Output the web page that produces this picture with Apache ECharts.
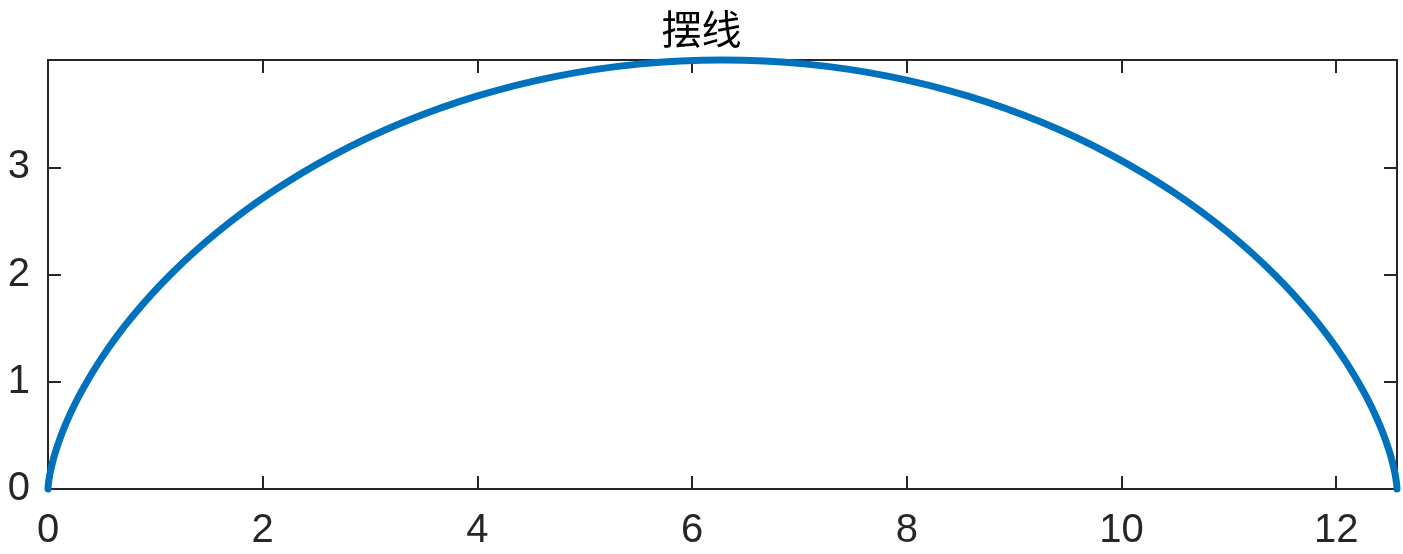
<!DOCTYPE html>
<html>
<head>
<meta charset="utf-8">
<script src="https://cdn.jsdelivr.net/npm/echarts@6/dist/echarts.min.js"></script>
<style>
  html, body { margin: 0; padding: 0; background: #fff; }
  #chart { width: 1403px; height: 554px; }
</style>
</head>
<body>
<div id="chart"></div>
<script>
// 摆线上的点 (x, y)
const xs = [0, 0.0025, 0.0200, 0.0670, 0.1566, 0.3006, 0.5084, 0.7873, 1.1416, 1.5727,
  2.0792, 2.6567, 3.2982, 3.9939, 4.7324, 5.5003, 6.2832, 7.0661, 7.8340, 8.5725,
  9.2682, 9.9097, 10.4872, 10.9937, 11.4248, 11.7791, 12.0580, 12.2658, 12.4098,
  12.4994, 12.5464, 12.5639, 12.5664];
const ys = [0, 0.0384, 0.1522, 0.3371, 0.5858, 0.8889, 1.2346, 1.6098, 2, 2.3902,
  2.7654, 3.1111, 3.4142, 3.6629, 3.8478, 3.9616, 4, 3.9616, 3.8478, 3.6629,
  3.4142, 3.1111, 2.7654, 2.3902, 2, 1.6098, 1.2346, 0.8889, 0.5858,
  0.3371, 0.1522, 0.0384, 0];
const xMax = 12.5664;
const yMax = 4;

const chart = echarts.init(document.getElementById('chart'));
const axisColor = '#262626';
const labelFont = { color: axisColor, fontSize: 40, fontFamily: 'Liberation Sans, Arial, sans-serif' };

const points = xs.map((x, i) => [x, ys[i]]);

function boxAxis(pos, isX, showLabel) {
  return {
    type: 'value',
    position: pos,
    min: 0,
    max: isX ? xMax : yMax,
    interval: isX ? 2 : 1,
    axisLine: { show: true, onZero: false, lineStyle: { color: axisColor, width: 2 } },
    axisTick: { show: true, inside: true, length: 13, lineStyle: { color: axisColor, width: 2 } },
    axisLabel: Object.assign({
      show: showLabel,
      margin: isX ? 22 : 18,
      showMaxLabel: false
    }, labelFont),
    splitLine: { show: false }
  };
}

const option = {
  animation: false,
  title: {
    text: '摆线',
    left: 'center',
    top: 4,
    textStyle: { color: '#000', fontSize: 40, fontWeight: 'normal', fontFamily: 'Noto Sans CJK SC' }
  },
  grid: { left: 48, right: 6, top: 60, bottom: 65, containLabel: false, outerBoundsMode: 'none' },
  xAxis: [boxAxis('bottom', true, true), boxAxis('top', true, false)],
  yAxis: [boxAxis('left', false, true), boxAxis('right', false, false)],
  series: [{
    type: 'line',
    data: points,
    showSymbol: false,
    smooth: 0.3,
    clip: false,
    lineStyle: { color: '#0072BD', width: 7, join: 'round', cap: 'round' }
  }]
};
chart.setOption(option);
</script>
</body>
</html>
